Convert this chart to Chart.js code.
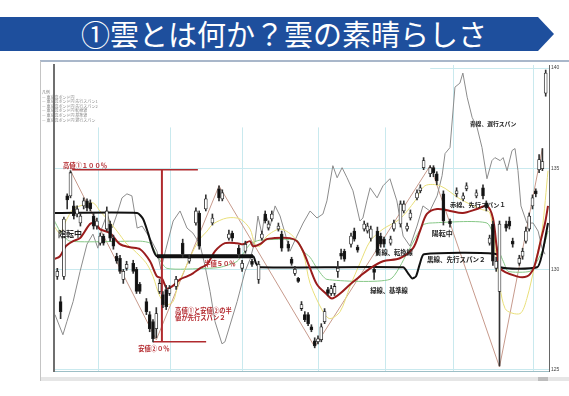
<!DOCTYPE html>
<html><head><meta charset="utf-8">
<script src="https://cdn.jsdelivr.net/npm/chart.js@4.4.1/dist/chart.umd.min.js"></script>
<style>
html,body{margin:0;padding:0;background:#fff;width:569px;height:396px;overflow:hidden;font-family:"Noto Sans CJK JP","Noto Sans",sans-serif}
#banner{position:absolute;left:0;top:17px;width:554px;height:34px;background:#1e4f9d;clip-path:polygon(0 0,538px 0,554px 17px,538px 34px,0 34px)}
#title{position:absolute;left:0;top:16px;width:568px;height:34px;line-height:34px;text-align:center;color:#fff;font-size:29px;white-space:nowrap}
#ftop{position:absolute;left:40px;top:60px;width:529px;height:2px;background:#a9b7ca}
#fleft{position:absolute;left:40px;top:61px;width:1px;height:320px;background:#c4c4c4}
#pleft{position:absolute;left:53px;top:64px;width:2px;height:308px;background:#6f6f6f;z-index:3}
#scroll{position:absolute;left:41px;top:377px;width:528px;height:4px;background:#e6e6e6;z-index:3}
#thumb{position:absolute;left:538px;top:377px;width:10px;height:4px;background:#bdbdbd;z-index:4}
#legend{position:absolute;left:42px;top:90px;font-size:4px;line-height:4.6px;color:#888;z-index:3;white-space:nowrap}
canvas{position:absolute;left:0;top:0;z-index:2}
</style></head>
<body>
<div id="banner"></div>
<div id="title">①雲とは何か？雲の素晴らしさ</div>
<div id="ftop"></div><div id="fleft"></div>
<div id="legend">凡例<br>— 東京高ボンド円<br>— 東京高ボンド円 先行スパン1<br>— 東京高ボンド円 先行スパン2<br>— 東京高ボンド円 転換線<br>— 東京高ボンド円 基準線<br>— 東京高ボンド円 遅行スパン</div>
<canvas id="c" width="569" height="396"></canvas>
<div id="pleft"></div><div id="scroll"></div><div id="thumb"></div>
<script>
// ---- axis labels ----
const monthLabels = ["10/09","10/10","10/11","10/12","11/01","11/02","11/03"];
const labelDays = [3.3, 23.6, 45.5, 68.5, 89.1, 110.9, 132.7];
const gridDays = [13.6, 35.2, 57.0, 80.0, 100.6, 121.2, 145.2];
const yTicks = [125, 130, 135, 140];

// ---- candles ----
const candleDay = [1,2,3,4,5,6,7,8,9,10,11,12,13,14,15,16,17,18,19,20,21,22,24,25,26,28,29,30,31,32,33,34,35,37,39,41,43,44,46,48,50,51,53,54,56,57,58,60,62,63,64,65,66,68,69,71,72,73,74,75,76,77,78,79,80,81,82,83,84,85,86,87,88,90,91,92,94,95,96,97,98,99,100,102,103,105,106,107,108,110,111,112,114,115,116,118,120,122,124,125,128,130,131,132,133,134,135,137,138,139,141,142,143,144,145,146,147,148,149];
const candleOpen = [129.65,128.4,129.65,133.65,133.65,133.15,132.75,132.3,133.15,133.4,133.3,132.65,132.15,131.3,131.65,132.0,132.25,131.55,130.65,130.55,129.5,130.05,130.3,130.0,129.25,128.4,127.75,127.4,127.05,128.9,128.75,129.0,128.8,129.15,131.3,130.4,132.3,132.8,133.0,132.3,134.0,133.5,131.55,131.8,131.05,130.05,130.9,130.4,129.5,131.55,132.75,132.05,132.5,132.0,131.75,131.25,130.5,129.8,129.55,128.05,127.75,127.75,127.15,126.45,126.4,126.5,127.4,129.0,128.8,128.8,129.9,130.8,130.9,131.25,131.9,131.1,132.0,131.9,131.55,130.0,131.9,131.65,131.5,131.3,132.0,132.25,132.9,132.0,132.55,133.55,133.9,135.05,134.75,135.05,134.75,133.75,132.4,133.75,133.5,134.0,133.65,134.05,133.3,131.3,132.25,130.05,128.9,132.25,132.4,131.4,130.3,130.65,131.4,132.0,133.15,133.9,134.95,135.0,138.75];
const candleHigh = [130.05,128.65,132.6,133.75,134.9,133.4,133.15,132.8,133.55,133.5,133.45,132.8,132.55,131.8,131.75,133.1,132.4,131.7,130.8,130.7,130.0,130.4,130.45,130.1,129.35,128.55,127.9,127.5,128.1,129.5,128.9,129.2,129.2,129.65,131.5,130.7,133.05,132.9,133.7,132.75,134.15,133.95,131.95,131.9,131.2,130.45,131.4,130.5,130.4,131.9,132.9,132.4,132.9,132.3,131.9,131.4,130.6,130.15,129.6,128.4,127.9,127.85,127.25,126.6,126.7,127.3,128.05,129.1,129.2,129.3,130.4,131.0,131.0,131.8,132.05,131.2,132.4,132.3,132.15,130.1,132.1,131.8,131.6,131.65,132.45,133.4,133.4,132.3,132.95,133.95,134.2,135.55,135.15,135.15,134.85,133.9,132.5,134.05,133.8,134.3,133.95,134.2,133.4,131.7,132.4,130.6,132.4,132.4,132.6,131.55,130.7,131.05,132.1,132.8,133.7,134.0,135.7,136.0,139.9];
const candleLow = [129.5,127.55,129.5,133.0,133.55,132.5,132.6,132.15,133.0,132.9,132.9,132.0,132.0,131.2,131.2,131.9,131.4,131.0,130.3,129.8,129.3,129.95,129.8,128.8,128.8,127.75,126.9,126.4,126.6,128.8,128.1,128.0,128.7,129.0,130.6,130.3,132.2,131.0,132.9,132.2,133.4,133.4,131.45,131.4,130.6,129.9,130.8,130.15,129.3,131.45,132.3,131.95,132.4,131.9,130.9,130.9,130.2,129.7,129.35,127.95,127.4,127.2,126.9,126.1,126.3,126.4,127.3,128.7,128.7,128.7,129.6,130.5,130.4,131.1,131.4,130.85,131.9,131.8,131.4,129.5,130.7,131.1,131.1,131.2,131.9,132.1,132.8,131.9,132.45,133.45,133.8,134.95,134.6,134.6,134.2,132.2,132.1,133.6,133.4,133.9,133.55,133.5,132.9,131.2,130.2,129.9,125.2,131.9,132.0,131.1,130.2,130.5,131.3,131.9,133.0,133.6,134.8,134.9,138.6];
const candleClose = [129.9,127.9,132.5,133.45,134.8,132.65,133.0,132.65,133.4,133.05,133.0,132.15,132.4,131.65,131.3,132.9,131.55,131.15,130.4,129.9,129.9,130.25,129.9,128.9,128.9,127.9,127.05,126.55,127.8,129.3,128.25,128.15,129.05,129.5,130.75,130.55,132.9,131.15,133.5,132.55,133.55,133.8,131.75,131.55,130.75,130.3,131.25,130.25,130.25,131.75,132.4,132.25,132.75,132.15,131.05,131.05,130.3,130.0,129.4,128.25,127.5,127.3,127.0,126.2,126.55,127.15,127.9,128.8,129.05,129.15,130.05,130.65,130.5,131.65,131.5,130.95,132.25,132.15,132.0,129.85,130.8,131.25,131.25,131.5,132.3,133.25,133.25,132.15,132.8,133.8,134.05,135.4,135.05,134.8,134.4,132.4,132.25,133.9,133.65,134.15,133.8,133.65,133.05,131.55,130.4,130.4,132.25,132.05,132.15,131.25,130.55,130.9,131.9,132.65,133.55,133.75,135.45,135.35,139.75];

// ---- ichimoku lines ----
const span1Day = [0,1.8,3.6,5.8,7.9,10.9,12.4,13.9,17,20,23,26.1,29.1,31.2,32.7,34.2,35.8,38.2,40.3,42.1,44.2,46.4,48.8,51.8,55.5,57.3,59.4,60.3,62.4,64.5,66.4,71.5,73.6,75.5,77.6,79.7,82.7,84.2,86.7,89.7,92.7,95.8,99.7,104.8,108.8,110.9,113,116.1,120,123.9,128.2,131.2,133,134.2,135.2,140.3,143.3,145.2,146.4,147.6,148.8,149.7];
const span1Val = [130.5,130.65,131.15,131.4,131.55,132.25,132.3,132.0,131.8,131.25,131.1,131.0,130.4,129.65,129.55,129.05,129.15,129.5,129.65,129.8,130.05,130.25,130.9,131.3,131.3,131.25,131.4,131.15,131.25,131.5,131.55,131.55,131.4,130.9,130.05,129.25,128.75,128.55,128.8,129.25,129.65,130.05,130.4,130.55,131.05,131.9,132.75,133.0,132.9,132.8,133.0,133.15,132.55,131.05,130.05,129.65,129.65,130.0,130.65,131.5,132.3,133.15];
const span2Day = [0,25.2,27,28.5,30,31.2,60.3,61.2,62.4,105.8,107.3,108.5,109.7,110.9,112.1,134.2,135.2,146.4,147.9,149.7];
const span2Val = [132.8,132.8,132.5,131.8,131.0,130.65,130.65,130.3,130.1,130.1,129.8,129.55,129.65,130.3,130.75,130.75,130.1,130.1,130.75,132.3];
const kijunDay = [0,1.8,4.8,26.1,29.1,31.2,34.2,46.4,50.3,55.5,59.4,62.4,73.6,75.5,77.6,79.7,82.7,101.8,107,111.8,113.9,131.2,134.2,136.4,137.6,144.2,146.4,148.2,149.7];
const kijunVal = [132.45,131.9,131.4,131.4,131.3,130.7,130.05,130.05,130.1,130.4,131.25,131.45,131.45,130.9,130.6,130.05,129.5,129.5,130.8,132.2,132.3,132.3,131.15,130.3,129.9,129.9,130.4,131.0,131.9];
const tenkanDay = [0,1.8,3.6,5.8,7.9,11.8,13.9,16.1,19.1,22.1,23.9,26.1,28.2,30,32.1,34.2,36.1,37.6,39.1,42.1,44.2,46.4,48.2,52.4,56.4,59.4,60.9,62.4,64.5,68.5,72.4,75.5,77.6,81.5,83.6,86.7,89.7,92.7,95.8,99.7,104.8,109.4,112.4,117,123,129.1,132.1,134.2,136.7,141.2,143.3,145.8,147.9,149.7];
const tenkanVal = [132.15,131.8,132.4,133.0,133.15,133.3,132.9,132.5,131.9,131.25,131.0,130.65,130.25,129.65,128.65,128.25,128.4,129.25,129.8,130.9,131.5,131.9,132.25,132.55,132.5,132.0,131.25,131.15,131.65,132.0,131.65,130.8,129.3,127.9,127.55,127.9,129.15,130.3,131.4,132.0,132.5,133.4,134.15,134.15,133.5,133.0,132.8,130.4,128.05,127.8,128.55,130.3,131.95,134.9];
const chikouDay = [0.3,2.7,3.9,5.8,7.9,10,11.8,13.3,14.5,16.1,17.6,19.1,20.6,22.1,23.6,25.2,26.7,29.1,31.2,32.4,33.9,36.1,38.2,40.3,42.1,44.2,45.8,47.3,48.8,50.9,51.8,55.5,57.9,59.4,60.9,61.8,63,63.9,65.5,67,68.5,70,71.5,73.6,75.5,77.6,79.7,81.5,82.7,84.5,85.8,87.3,88.8,90.6,91.8,92.7,93.6,94.8,95.8,97.9,99.7,101.8,103.9,105.8,107.9,110,111.8,113.9,116.1,117.6,118.5,120,121.5,123,123.9,125.2,126.7,128.2,129.7,131.2,132.7,133.6,135.2,136.1,137.3,138.8,139.7,140.6,141.5,143.3,145.2,146.7,147.9,148.8];
const chikouVal = [127.75,126.75,127.4,128.4,129.9,131.25,131.75,131.05,132.05,132.75,132.05,132.75,133.55,133.75,133.65,132.05,132.15,131.55,130.9,130.0,131.0,132.4,132.9,132.05,131.8,131.25,130.15,128.9,127.4,126.3,126.4,128.4,129.9,130.5,131.4,132.65,131.75,132.8,132.15,133.15,132.65,131.8,130.9,131.65,132.3,132.9,132.55,132.75,133.4,135.15,134.55,135.05,134.55,133.9,133.05,132.4,132.55,133.4,134.05,133.55,134.15,134.5,133.4,131.65,131.15,132.15,133.15,132.9,133.65,134.65,135.75,136.05,139.05,139.25,139.75,138.55,137.55,137.05,136.05,134.5,135.4,135.55,135.4,135.55,134.9,135.9,136.0,134.9,133.15,132.3,132.3,131.9,131.05,130.75];
// N-wave zigzag between highs and lows
const zigDay = [5, 31, 50, 79, 114, 135, 148];
const zigVal = [134.9, 126.5, 134.15, 126.15, 135.15, 125.15, 136.0];
// Fibonacci-style guide lines (high 100%, low 0%, half value)
const highLineDay = [5.5, 43.6], highLineVal = [134.95, 134.95];
const vertLineDay = [32.7, 32.7], vertLineVal = [134.95, 126.4];
const lowLineDay = [30, 46.1], lowLineVal = [126.4, 126.4];
const halfLineDay = [31.2, 60.3], halfLineVal = [130.65, 130.65];

const notes = [
  {d:2.7, v:135.15, text:"高値①１００％", color:"#b3282d", size:6.3},
  {d:45.5, v:130.3, text:"半値５０％", color:"#b3282d", size:6.3},
  {d:36.7, v:127.95, text:"高値①と安値②の半", color:"#b3282d", size:6.3},
  {d:36.7, v:127.6, text:"値が先行スパン２", color:"#b3282d", size:6.3},
  {d:25.5, v:126.05, text:"安値②０％", color:"#b3282d", size:6.3},
  {d:1.2, v:131.75, text:"陰転中", color:"#222", size:8},
  {d:114.5, v:131.8, text:"陽転中", color:"#222", size:7},
  {d:120, v:133.2, text:"赤線、先行スパン１", color:"#222", size:6.2},
  {d:113, v:130.5, text:"黒線、先行スパン２", color:"#222", size:6.5},
  {d:97.3, v:130.85, text:"黄線、転換線", color:"#222", size:6.3},
  {d:95.8, v:128.95, text:"緑線、基準線", color:"#222", size:6.3},
  {d:126, v:137.25, text:"青線、遅行スパン", color:"#222", size:5.8}
];

const pts = (ds, vs) => ds.map((d, i) => ({x: d, y: vs[i]}));
const lineDs = (ds, vs, color, w, order, tension) => ({
  type: 'line', data: pts(ds, vs), borderColor: color, borderWidth: w,
  pointRadius: 0, fill: false, tension: tension || 0, order: order
});

const maskPlugin = {
  id: 'mask',
  beforeDatasetsDraw(chart) {
    const {ctx, chartArea, scales: {x, y}} = chart;
    ctx.save();
    ctx.fillStyle = '#fff';
    const x1 = chartArea.left + 1, x2 = x.getPixelForValue(114);
    const y1 = chartArea.top, y2 = y.getPixelForValue(137.05);
    ctx.fillRect(x1, y1, x2 - x1, y2 - y1);
    ctx.restore();
  }
};
const notePlugin = {
  id: 'notes',
  afterDatasetsDraw(chart) {
    const {ctx, scales: {x, y}} = chart;
    ctx.save();
    ctx.textBaseline = 'middle';
    ctx.textAlign = 'left';
    for (const n of notes) {
      ctx.font = `bold ${n.size}px "Noto Sans CJK JP"`;
      ctx.fillStyle = n.color;
      ctx.fillText(n.text, x.getPixelForValue(n.d), y.getPixelForValue(n.v));
    }
    ctx.restore();
  }
};

const bodyColors = candleOpen.map((o, i) => candleClose[i] < o ? '#111' : '#fff');

new Chart(document.getElementById('c'), {
  type: 'line',
  data: {
    datasets: [
      {type: 'bar', data: candleDay.map((d, i) => ({x: d, y: [candleOpen[i], candleClose[i]]})),
        backgroundColor: bodyColors, borderColor: '#222', borderWidth: 0.8, borderSkipped: false,
        barThickness: 3, grouped: false, order: 0},
      {type: 'bar', data: candleDay.map((d, i) => ({x: d, y: [candleLow[i], candleHigh[i]]})),
        backgroundColor: '#333', borderWidth: 0, barThickness: 1, grouped: false, order: 1},
      lineDs(halfLineDay, halfLineVal, '#111', 4, 2),
      lineDs(highLineDay, highLineVal, '#b02a2e', 1.5, 3),
      lineDs(vertLineDay, vertLineVal, '#b02a2e', 2, 3),
      lineDs(lowLineDay, lowLineVal, '#b02a2e', 1.5, 3),
      lineDs(span1Day, span1Val, '#9a1c1c', 2, 4, 0.3),
      lineDs(span2Day, span2Val, '#111', 2, 5, 0.2),
      lineDs(tenkanDay, tenkanVal, '#e9df7a', 1, 6, 0.3),
      lineDs(kijunDay, kijunVal, '#86c786', 1, 7, 0.2),
      lineDs(chikouDay, chikouVal, '#8c8c8c', 1, 8),
      lineDs(zigDay, zigVal, '#c79a8c', 1, 9)
    ]
  },
  options: {
    responsive: false, animation: false, devicePixelRatio: 1,
    layout: {padding: {left: 54, top: 65, right: 0, bottom: 15}},
    plugins: {legend: {display: false}, tooltip: {enabled: false}},
    scales: {
      x: {type: 'linear', min: 0, max: 150, offset: false, position: 'bottom',
        grid: {display: false}, border: {color: '#9dbfc6'},
        ticks: {font: {size: 5}, color: '#555', padding: 1, autoSkip: false, maxRotation: 0,
          callback: (v, i) => monthLabels[i]},
        afterBuildTicks: s => { s.ticks = labelDays.map(v => ({value: v})); },
        afterFit: s => { s.height = 10; }},
      xg: {type: 'linear', min: 0, max: 150, offset: false, position: 'bottom',
        grid: {color: '#c9e9ee', drawTicks: false}, border: {display: false},
        ticks: {display: false},
        afterBuildTicks: s => { s.ticks = gridDays.map(v => ({value: v})); },
        afterFit: s => { s.height = 0; }},
      y: {position: 'right', min: 124.95, max: 140.15,
        grid: {color: '#c9e9ee', drawTicks: false}, border: {color: '#666'},
        ticks: {font: {size: 5}, color: '#444', padding: 2},
        afterBuildTicks: s => { s.ticks = yTicks.map(v => ({value: v})); },
        afterFit: s => { s.width = 20; }}
    }
  },
  plugins: [maskPlugin, notePlugin]
});
</script>
</body></html>
